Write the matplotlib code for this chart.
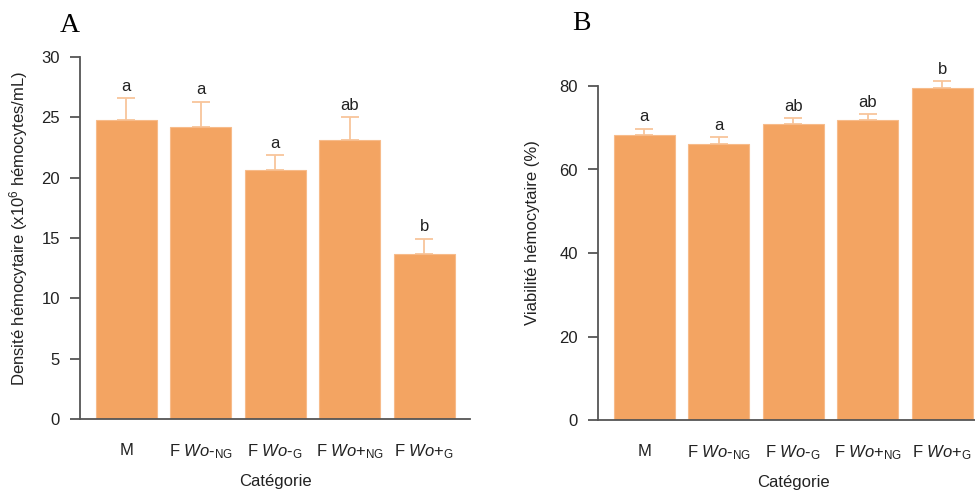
import matplotlib
matplotlib.use("Agg")
import matplotlib.pyplot as plt
import numpy as np

plt.rcParams['font.family'] = ['Liberation Sans', 'DejaVu Sans']
plt.rcParams['mathtext.fontset'] = 'custom'
plt.rcParams['mathtext.rm'] = 'Liberation Sans'
plt.rcParams['mathtext.it'] = 'Liberation Sans:italic'
plt.rcParams['mathtext.bf'] = 'Liberation Sans:bold'

categories = ["M",
              r"F $\mathit{Wo}$-$_{\mathrm{NG}}$",
              r"F $\mathit{Wo}$-$_{\mathrm{G}}$",
              r"F $\mathit{Wo}$+$_{\mathrm{NG}}$",
              r"F $\mathit{Wo}$+$_{\mathrm{G}}$"]

density = [24.8, 24.2, 20.6, 23.1, 13.7]
density_err = [1.8, 2.1, 1.3, 1.9, 1.25]
density_letters = ["a", "a", "a", "ab", "b"]

viability = [68.3, 66.2, 70.8, 71.9, 79.6]
viability_err = [1.5, 1.5, 1.5, 1.4, 1.5]
viability_letters = ["a", "a", "ab", "ab", "b"]

BAR = "#F3A462"
ERR = "#F8C59B"
SPINE = "#555555"
TXT = "#222222"
FS = 12

fig = plt.figure(figsize=(9.75, 4.9), dpi=100)

def panel(rect, values, errs, letters, ylim, bound, yticks, ylabel, lab_x, letter, letter_xy):
    ax = fig.add_axes(rect)
    x = np.arange(len(values))
    ax.bar(x, values, width=0.82, color=BAR, edgecolor="#F7BB8A", linewidth=0.8, zorder=2)
    ax.errorbar(x, values, yerr=[np.zeros(len(errs)), errs], fmt="none",
                ecolor=ERR, elinewidth=1.3, capsize=6.5, capthick=1.3, zorder=1, clip_on=False)
    for xi, v, e, l in zip(x, values, errs, letters):
        ax.annotate(l, (xi, v + e), xytext=(0, 3), textcoords="offset points",
                    ha="center", va="bottom", fontsize=FS, color=TXT, annotation_clip=False)
    ax.set_xlim(-0.62, 4.615)
    ax.set_ylim(*ylim)
    ax.spines['top'].set_visible(False)
    ax.spines['right'].set_visible(False)
    ax.spines['left'].set_bounds(0, bound)
    for s in ('left', 'bottom'):
        ax.spines[s].set_color(SPINE)
        ax.spines[s].set_linewidth(1.3)
    ax.set_yticks(yticks)
    ax.tick_params(axis='y', length=7.5, width=1.3, color=SPINE, pad=7, labelsize=FS, labelcolor=TXT)
    ax.set_xticks(x)
    ax.set_xticklabels(categories)
    ax.tick_params(axis='x', length=0, pad=17, labelsize=FS, labelcolor=TXT)
    ax.set_xlabel("Catégorie", fontsize=FS, color=TXT, labelpad=9)
    ax.set_ylabel(ylabel, fontsize=FS, color=TXT)
    ax.yaxis.set_label_coords(lab_x, 0.5)
    fig.text(letter_xy[0], letter_xy[1], letter, fontsize=20, family='Liberation Serif',
             ha='center', va='center', color='black')
    return ax

panel([80/975, 71/490, 390/975, (419-38.8)/490], density, density_err, density_letters,
      (0, 31.5), 30, [0, 5, 10, 15, 20, 25, 30],
      r"Densité hémocytaire (x10$^{6}$ hémocytes/mL)", -0.128, "A", (70/975, 1-26/490))

panel([598/975, 70/490, 390/975, (420-44.25)/490], viability, viability_err, viability_letters,
      (0, 90), 80, [0, 20, 40, 60, 80],
      "Viabilité hémocytaire (%)", -0.149, "B", (581/975, 1-24/490))

fig.savefig("out.png", dpi=100)
